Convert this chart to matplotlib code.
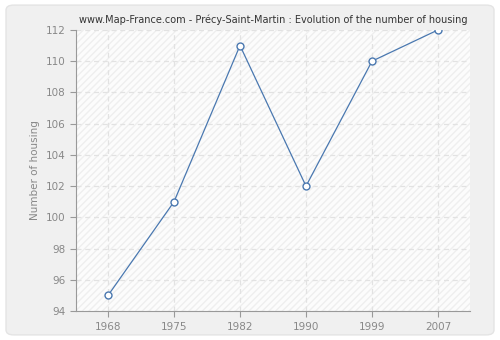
import matplotlib
matplotlib.use('Agg')
import matplotlib.pyplot as plt
from matplotlib.patches import FancyBboxPatch, Rectangle

years = ['1968', '1975', '1982', '1990', '1999', '2007']
housing = [95, 101, 111, 102, 110, 112]
yticks = [94, 96, 98, 100, 102, 104, 106, 108, 110, 112]

fig = plt.figure(figsize=(5, 3.4), dpi=100)
fig.patch.set_facecolor('#ffffff')
# rounded grey frame, kept under the axes
fig.patches.append(FancyBboxPatch((0.012, 0.015), 0.976, 0.97, boxstyle='round,pad=0,rounding_size=0.015',
	transform=fig.transFigure, facecolor='#f0f0f0', edgecolor='#e4e4e4', linewidth=1, zorder=-10))

ax = fig.add_axes([0.152, 0.085, 0.788, 0.827])
ax.set_facecolor('#fcfcfc')
ax.add_patch(Rectangle((0, 0), 1, 1, transform=ax.transAxes, facecolor='none',
	edgecolor='#efefef', hatch='/////', linewidth=0, zorder=0))

x = list(range(len(years)))
ax.plot(x, housing, color='#4a78b0', linewidth=0.9, zorder=3)
ax.plot(x, housing, linestyle='none', marker='o', markersize=5, markerfacecolor='white',
	markeredgecolor='#4a78b0', markeredgewidth=1, zorder=4)

ax.set_xlim(-0.485, 5.485)
ax.set_ylim(94, 112)
ax.set_xticks(x)
ax.set_xticklabels(years)
ax.set_yticks(yticks)
ax.grid(True, linestyle=(0, (4, 3)), color='#e2e2e2', linewidth=0.9)
ax.set_axisbelow(True)

for s in ['top', 'right']:
	ax.spines[s].set_visible(False)
for s in ['left', 'bottom']:
	ax.spines[s].set_color('#999999')
ax.tick_params(colors='#999999', labelcolor='#888888', labelsize=7.5, length=4, width=0.8)
ax.set_ylabel('Number of housing', color='#888888', fontsize=7.5)
ax.set_title('www.Map-France.com - Précy-Saint-Martin : Evolution of the number of housing',
	fontsize=7, color='#333333', pad=5)

plt.savefig('out.png', dpi=100, facecolor=fig.get_facecolor())
